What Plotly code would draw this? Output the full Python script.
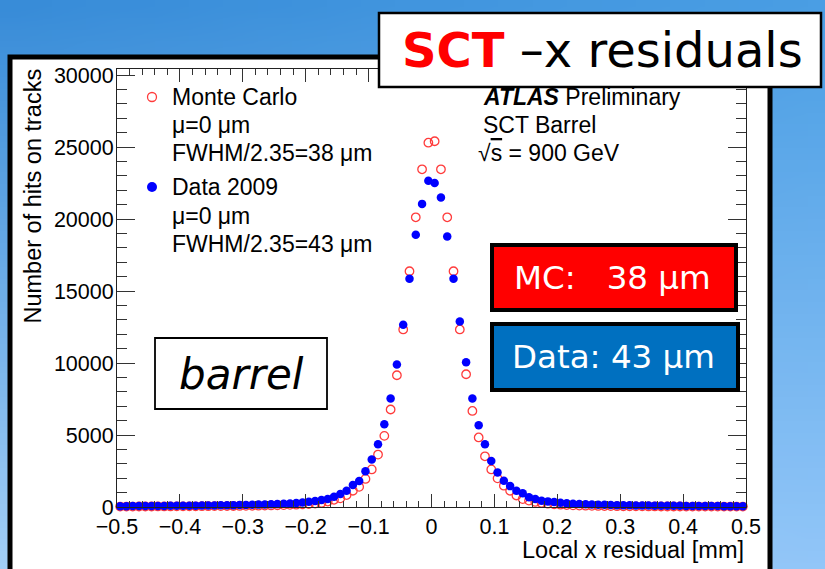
import base64
import struct
import zlib

import numpy as np
import plotly.graph_objects as go

# ---------------------------------------------------------------- data
# local x residual histogram, 100 bins of 0.01 mm between -0.5 and 0.5 mm
bin_low = -0.5
bin_width = 0.01
n_bins = 100

mc_counts = [
    30, 30, 30, 35, 35, 35, 40, 40, 40, 45,
    45, 50, 50, 55, 55, 60, 60, 65, 70, 75,
    80, 85, 90, 100, 110, 120, 130, 145, 160, 180,
    205, 240, 280, 380, 500, 600, 830, 1130, 1400, 1950,
    2610, 3640, 4940, 6770, 9150, 12330, 16370, 20120, 23450, 25300,
    25400, 23450, 20120, 16370, 12330, 9220, 6670, 4830, 3520, 2610,
    1990, 1480, 1130, 800, 550, 440, 350, 280, 230, 190,
    160, 135, 115, 100, 90, 80, 72, 65, 60, 55,
    50, 48, 45, 42, 40, 38, 36, 35, 34, 33,
    32, 31, 30, 30, 30, 30, 30, 30, 30, 30,
]

data_counts = [
    60, 60, 65, 65, 70, 70, 75, 75, 80, 85,
    85, 90, 95, 100, 105, 110, 115, 120, 130, 135,
    145, 155, 165, 175, 190, 205, 225, 250, 280, 320,
    360, 410, 480, 560, 710, 900, 1130, 1520, 1800, 2490,
    3300, 4350, 5750, 7530, 9890, 12660, 15850, 18900, 21050, 22650,
    22500, 21500, 18780, 15850, 12890, 10050, 7530, 5680, 4350, 3190,
    2400, 1830, 1450, 1130, 950, 680, 550, 440, 390, 340,
    300, 260, 230, 210, 190, 175, 160, 150, 140, 130,
    120, 115, 110, 105, 100, 95, 90, 85, 80, 80,
    75, 75, 70, 70, 65, 65, 60, 60, 60, 55,
]

bin_centers = np.round(bin_low + bin_width * (np.arange(n_bins) + 0.5), 4)

x_range = [-0.5, 0.5]
y_range = [0, 30417]

legend_mc = ["Monte Carlo", "\u03bc=0 \u03bcm", "FWHM/2.35=38 \u03bcm"]
legend_data = ["Data 2009", "\u03bc=0 \u03bcm", "FWHM/2.35=43 \u03bcm"]
atlas_lines = ["<b><i>ATLAS</i></b> Preliminary", "SCT Barrel",
               "\u221a<span style='text-decoration:overline'>s</span> = 900 GeV"]

# ---------------------------------------------------------------- geometry
W, H = 825, 569
ML, MR, MT, MB = 117, 79, 69, 62
PW = W - ML - MR
PH = H - MT - MB


def px(x):
    return (x - ML) / PW


def py(y):
    return 1 - (y - MT) / PH


def gradient_uri(w, h, tl, tr, bl, br):
    raw = bytearray()
    for j in range(h):
        v = j / (h - 1)
        raw.append(0)
        for i in range(w):
            u = i / (w - 1)
            for c in range(3):
                top = tl[c] * (1 - u) + tr[c] * u
                bot = bl[c] * (1 - u) + br[c] * u
                raw.append(int(round(top * (1 - v) + bot * v)))

    def chunk(tag, payload):
        return (struct.pack(">I", len(payload)) + tag + payload
                + struct.pack(">I", zlib.crc32(tag + payload) & 0xFFFFFFFF))

    png = (b"\x89PNG\r\n\x1a\n"
           + chunk(b"IHDR", struct.pack(">IIBBBBB", w, h, 8, 2, 0, 0, 0))
           + chunk(b"IDAT", zlib.compress(bytes(raw)))
           + chunk(b"IEND", b""))
    return "data:image/png;base64," + base64.b64encode(png).decode()


ROOT_FONT = "Liberation Sans, Arial, sans-serif"
SLIDE_FONT = "DejaVu Sans, Verdana, sans-serif"

fig = go.Figure()

fig.add_trace(go.Scatter(
    x=bin_centers, y=mc_counts, mode="markers", name="Monte Carlo",
    marker=dict(symbol="circle-open", size=8.5, color="#ff3b3b",
                line=dict(width=1.3, color="#ff3b3b")),
    cliponaxis=False, showlegend=False,
))
fig.add_trace(go.Scatter(
    x=bin_centers, y=data_counts, mode="markers", name="Data 2009",
    marker=dict(symbol="circle", size=8.5, color="#0000ff"),
    cliponaxis=False, showlegend=False,
))

axis_common = dict(
    showgrid=False, zeroline=False, showline=True, linecolor="#222222",
    linewidth=1, mirror="allticks", ticks="inside", tickwidth=1,
    tickcolor="#333333",
    tickfont=dict(family=ROOT_FONT, size=21.5, color="black"),
)

fig.update_xaxes(range=x_range, dtick=0.1, tick0=0, ticklen=13,
                 minor=dict(ticks="inside", dtick=0.02, ticklen=6,
                            tickcolor="#333333", tickwidth=1),
                 **axis_common)
fig.update_yaxes(range=y_range, dtick=5000, tick0=0, ticklen=18,
                 tickformat="d", ticklabelstandoff=-2,
                 minor=dict(ticks="inside", dtick=1000, ticklen=10,
                            tickcolor="#333333", tickwidth=1),
                 **axis_common)

shapes = [
    # white slide panel behind the plot
    dict(type="rect", xref="paper", yref="paper", layer="below",
         x0=px(10), x1=px(770), y0=py(57), y1=py(600),
         fillcolor="white", line=dict(color="black", width=5)),
    # title box
    dict(type="rect", xref="paper", yref="paper", layer="above",
         x0=px(379), x1=px(821), y0=py(13), y1=py(87),
         fillcolor="white", line=dict(color="black", width=2.5)),
    # resolution boxes
    dict(type="rect", xref="paper", yref="paper", layer="above",
         x0=px(492), x1=px(736), y0=py(245), y1=py(310),
         fillcolor="#ff0000", line=dict(color="black", width=4)),
    dict(type="rect", xref="paper", yref="paper", layer="above",
         x0=px(492), x1=px(738), y0=py(324), y1=py(390),
         fillcolor="#0070c0", line=dict(color="black", width=4)),
    # barrel label box
    dict(type="rect", xref="paper", yref="paper", layer="above",
         x0=px(155), x1=px(327), y0=py(338), y1=py(409),
         fillcolor="white", line=dict(color="black", width=1.8)),
    # legend symbols
    dict(type="circle", xref="paper", yref="paper", layer="above",
         x0=px(147.5), x1=px(156.5), y0=py(92.5), y1=py(101.5),
         fillcolor="rgba(0,0,0,0)", line=dict(color="#ff3b3b", width=1.3)),
    dict(type="circle", xref="paper", yref="paper", layer="above",
         x0=px(147), x1=px(157), y0=py(182), y1=py(192),
         fillcolor="#0000ff", line=dict(color="#0000ff", width=0)),
]

annotations = []


def text(x, y, s, size, family=ROOT_FONT, color="black", xanchor="left",
         yanchor="middle", angle=0):
    annotations.append(dict(
        x=px(x), y=py(y), xref="paper", yref="paper", text=s,
        showarrow=False, xanchor=xanchor, yanchor=yanchor, textangle=angle,
        font=dict(family=family, size=size, color=color)))


for k, line in enumerate(legend_mc):
    text(170, 97 + 28 * k, line, 23)
for k, line in enumerate(legend_data):
    text(170, 187 + 28.5 * k, line, 23)
for k, line in enumerate(atlas_lines):
    text(481 if k < 2 else 476, 97 + 28 * k, line, 23)

text(746, 550, "Local x residual [mm]", 23.5, xanchor="right")
text(32, 67, "Number of hits on tracks", 23.5, xanchor="center",
     yanchor="top", angle=-90)

text(602, 50, "<b><span style='color:#ff0000'>SCT</span></b> \u2013x residuals",
     48, family=SLIDE_FONT, xanchor="center")
text(612, 278, "MC:\u00a0\u00a0\u00a038 \u03bcm", 32.5, family=SLIDE_FONT,
     color="white", xanchor="center")
text(613, 357, "Data: 43 \u03bcm", 32.5, family=SLIDE_FONT,
     color="white", xanchor="center")
text(241, 374, "<i>barrel</i>", 42, family=SLIDE_FONT, xanchor="center")

fig.update_layout(
    width=W, height=H, margin=dict(l=ML, r=MR, t=MT, b=MB, pad=0),
    paper_bgcolor="#6aaee8", plot_bgcolor="white",
    shapes=shapes, annotations=annotations, showlegend=False,
    images=[dict(
        source=gradient_uri(24, 48, (56, 140, 216), (74, 158, 228),
                            (162, 206, 246), (146, 198, 248)),
        xref="paper", yref="paper", x=px(0), y=py(0),
        sizex=W / PW, sizey=H / PH, sizing="stretch",
        xanchor="left", yanchor="top", layer="below")],
)

fig.write_html("out.html")
